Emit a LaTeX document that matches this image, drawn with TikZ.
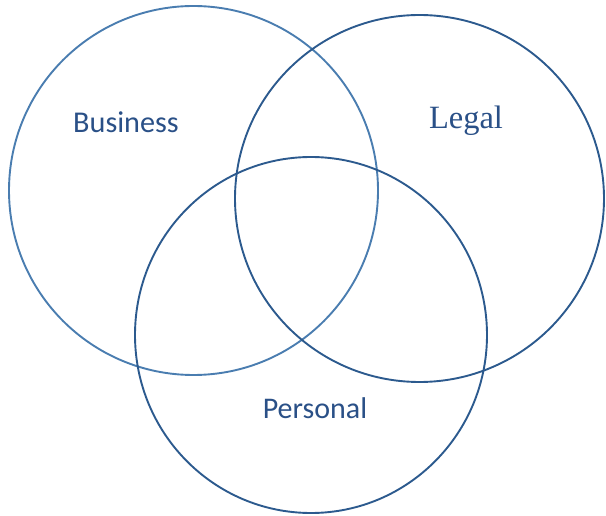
\documentclass[tikz,border=0pt]{standalone}
\usepackage{fontspec}
\setmainfont{Carlito}
\newfontfamily\legalfont{Liberation Serif}
\definecolor{ringA}{HTML}{4A7DB0}
\definecolor{ringB}{HTML}{2C5A8E}
\definecolor{labelc}{HTML}{2A5087}
\begin{document}
\begin{tikzpicture}[x=1pt,y=-1pt,
  ring/.style={line width=1.9pt},
  lab/.style={text=labelc, anchor=base, inner sep=0pt}]
\useasboundingbox (0,0) rectangle (606,516);
\draw[ring, ringA] (193.5,190.5) ellipse [x radius=184.5, y radius=184.5];
\draw[ring, ringB] (419.5,198.5) ellipse [x radius=184.5, y radius=183.5];
\draw[ring, ringB] (311,335) ellipse [x radius=176, y radius=178];
\node[lab, font=\fontsize{30.2}{33}\selectfont] (bus) at (126,132.5) {Business};
\node[lab, font=\legalfont\fontsize{32.5}{36}\selectfont] (leg) at (466,129) {Legal};
\node[lab, font=\fontsize{30}{33}\selectfont] (per) at (315,418) {Personal};
\end{tikzpicture}
\end{document}
